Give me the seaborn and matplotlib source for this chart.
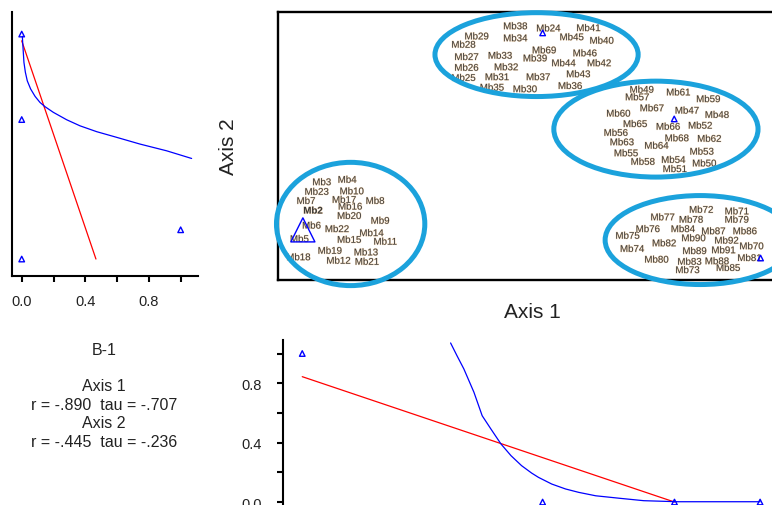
import numpy as np
import pandas as pd
import matplotlib
matplotlib.use('Agg')
import matplotlib.pyplot as plt
import matplotlib.patheffects as pe
from matplotlib.patches import Ellipse
import seaborn as sns

sns.set_style('white')
plt.rcParams['font.family'] = ['Liberation Sans', 'DejaVu Sans']

# --- ordination scores (main panel, axis units 0-100) ---
site_names = [
    'Mb2', 'Mb3', 'Mb4', 'Mb5', 'Mb6', 'Mb7', 'Mb8', 'Mb9', 'Mb10', 'Mb11', 'Mb12',
    'Mb13', 'Mb14', 'Mb15', 'Mb16', 'Mb17', 'Mb18', 'Mb19', 'Mb20', 'Mb21', 'Mb22', 'Mb23',
    'Mb24', 'Mb25', 'Mb26', 'Mb27', 'Mb28', 'Mb29', 'Mb30', 'Mb31', 'Mb32', 'Mb33', 'Mb34',
    'Mb35', 'Mb36', 'Mb37', 'Mb38', 'Mb39', 'Mb40', 'Mb41', 'Mb42', 'Mb43', 'Mb44', 'Mb45',
    'Mb46', 'Mb69',
    'Mb47', 'Mb48', 'Mb49', 'Mb50', 'Mb51', 'Mb52', 'Mb53', 'Mb54', 'Mb55', 'Mb56', 'Mb57',
    'Mb58', 'Mb59', 'Mb60', 'Mb61', 'Mb62', 'Mb63', 'Mb64', 'Mb65', 'Mb66', 'Mb67', 'Mb68',
    'Mb70', 'Mb71', 'Mb72', 'Mb73', 'Mb74', 'Mb75', 'Mb76', 'Mb77', 'Mb78', 'Mb79', 'Mb80',
    'Mb81', 'Mb82', 'Mb83', 'Mb84', 'Mb85', 'Mb86', 'Mb87', 'Mb88', 'Mb89', 'Mb90', 'Mb91',
    'Mb92',
]
axis1 = [
    6.9, 8.6, 13.6, 4.2, 6.6, 5.5, 19.1, 20.1, 14.5, 21.1, 11.9,
    17.3, 18.4, 14.0, 14.2, 13.0, 4.0, 10.2, 14.0, 17.5, 11.6, 7.6,
    53.2, 36.5, 37.1, 37.1, 36.5, 39.1, 48.6, 43.1, 44.9, 43.7, 46.7,
    42.1, 57.5, 51.2, 46.7, 50.6, 63.7, 61.1, 63.2, 59.1, 56.2, 57.8,
    60.4, 52.4,
    80.5, 86.4, 71.6, 83.9, 78.1, 83.1, 83.4, 77.8, 68.5, 66.5, 70.7,
    71.8, 84.7, 67.0, 78.8, 84.9, 67.7, 74.5, 70.3, 76.8, 73.6, 78.5,
    93.2, 90.3, 83.3, 80.6, 69.7, 68.8, 72.8, 75.7, 81.3, 90.3, 74.5,
    92.8, 76.0, 81.0, 79.7, 88.6, 91.9, 85.7, 86.4, 82.0, 81.8, 87.7,
    88.3,
]
axis2 = [
    25.9, 36.5, 37.4, 15.3, 20.3, 29.5, 29.5, 22.1, 33.1, 14.3, 7.2,
    10.3, 17.5, 15.0, 27.4, 29.9, 8.5, 10.9, 23.9, 6.8, 19.0, 32.9,
    93.9, 75.4, 79.2, 83.2, 87.8, 90.9, 71.2, 75.7, 79.4, 83.7, 90.2,
    71.8, 72.4, 75.7, 94.7, 82.7, 89.3, 94.0, 80.9, 76.8, 80.9, 90.6,
    84.6, 85.7,
    63.2, 61.6, 71.0, 43.5, 41.4, 57.6, 47.9, 44.8, 47.3, 54.9, 68.2,
    44.1, 67.5, 62.1, 70.0, 52.7, 51.4, 50.1, 58.2, 57.2, 64.1, 52.9,
    12.6, 25.6, 26.2, 3.7, 11.6, 16.5, 19.0, 23.4, 22.5, 22.5, 7.6,
    8.2, 13.7, 6.8, 19.0, 4.5, 18.2, 18.2, 7.0, 10.8, 15.6, 11.1,
    14.7,
]

# group points and highlighted site
group_axis1 = [52.1, 78.0, 95.0]
group_axis2 = [92.2, 60.1, 8.2]
highlight_axis1 = [4.9]
highlight_axis2 = [18.7]

# group ellipses: centre, width, height (axis units)
ell_x = [50.9, 74.4, 14.3, 83.1]
ell_y = [84.1, 56.3, 20.9, 14.9]
ell_w = [40.0, 40.2, 29.2, 37.4]
ell_h = [31.3, 35.8, 46.0, 33.2]

# --- left small plot ---
left_pts_x = [0.0, 0.0, 0.0, 1.0]
left_pts_y = [1.0, 0.62, 0.0, 0.13]
left_lin_x = [0.0, 0.467]
left_lin_y = [0.97, 0.0]
left_fit_x = [0.004, 0.006, 0.010, 0.014, 0.023, 0.035, 0.056, 0.084, 0.115, 0.147,
              0.199, 0.283, 0.367, 0.472, 0.597, 0.744, 0.912, 1.069]
left_fit_y = [0.99, 0.963, 0.919, 0.874, 0.830, 0.792, 0.756, 0.723, 0.696, 0.677,
              0.652, 0.619, 0.592, 0.566, 0.541, 0.511, 0.481, 0.447]

# --- bottom plot ---
bot_pts_x = [0.0, 0.525, 0.813, 1.0]
bot_pts_y = [1.0, 0.0, 0.0, 0.0]
bot_lin_x = [0.0, 0.813]
bot_lin_y = [0.844, 0.0]
bot_fit_x = [0.324, 0.338, 0.353, 0.375, 0.393, 0.412, 0.434, 0.456, 0.479, 0.501,
             0.516, 0.545, 0.575, 0.604, 0.641, 0.694, 0.746, 0.820, 1.0]
bot_fit_y = [1.071, 0.985, 0.896, 0.739, 0.581, 0.492, 0.391, 0.312, 0.245, 0.195,
             0.166, 0.121, 0.088, 0.065, 0.042, 0.025, 0.009, 0.002, 0.002]

stats_lines = ['B-1', 'Axis 1', 'r = -.890  tau = -.707', 'Axis 2', 'r = -.445  tau = -.236']

ELL_COLOR = '#1ba2dc'
TXT = '#222222'

fig = plt.figure(figsize=(7.72, 5.06), dpi=100)


def open_triangles(ax, x, y, s, lw):
    sns.scatterplot(x=x, y=y, marker='^', s=s, color='blue', linewidth=lw,
                    ax=ax, legend=False, clip_on=False, zorder=5)
    ax.collections[-1].set_facecolor('none')
    ax.collections[-1].set_edgecolor('blue')


# main ordination panel
ax = fig.add_axes([0.3601, 0.4447, 0.658, 0.5296])
ax.set_xlim(0, 100)
ax.set_ylim(0, 100)
ax.set_xticks([])
ax.set_yticks([])
for sp in ax.spines.values():
    sp.set_linewidth(1.7)
    sp.set_color('black')

# site labels: dark grey with a faint orange fringe like the original rendering
halo = [pe.withStroke(linewidth=0.6, foreground='#f8dcba')]
for name, sx, sy in zip(site_names, axis1, axis2):
    ax.text(sx, sy, name, fontsize=7, color='#3a3a3a', ha='center', va='center',
            fontweight='bold' if name == 'Mb2' else 'normal',
            path_effects=halo, zorder=3)

open_triangles(ax, group_axis1, group_axis2, 16, 1.0)
open_triangles(ax, highlight_axis1, highlight_axis2, 300, 1.0)

for cx, cy, w, h in zip(ell_x, ell_y, ell_w, ell_h):
    ax.add_patch(Ellipse((cx, cy), w, h, fill=False, edgecolor=ELL_COLOR,
                         linewidth=3.6, clip_on=False, zorder=4))

ax.text(0.5, -0.119, 'Axis 1', transform=ax.transAxes, fontsize=15, color=TXT,
        ha='center', va='center', clip_on=False)
ax.text(-0.0984, 0.5, 'Axis 2', transform=ax.transAxes, fontsize=15, color=TXT,
        ha='center', va='center', rotation=90, clip_on=False)

# left small plot
axl = fig.add_axes([0.01516, 0.4532, 0.2413, 0.5211])
sns.lineplot(x=left_lin_x, y=left_lin_y, color='red', lw=0.9, sort=False,
             estimator=None, ax=axl)
sns.lineplot(x=left_fit_x, y=left_fit_y, color='blue', lw=0.9, sort=False,
             estimator=None, ax=axl)
open_triangles(axl, left_pts_x, left_pts_y, 16, 1.0)
axl.set_xlim(-0.063, 1.109)
axl.set_ylim(-0.074, 1.098)
axl.set_xticks([0.0, 0.4, 0.8])
axl.set_xticks([0.2, 0.6, 1.0], minor=True)
axl.set_xticklabels(['0.0', '0.4', '0.8'])
axl.set_yticks([])
sns.despine(ax=axl)
for sp in ['left', 'bottom']:
    axl.spines[sp].set_linewidth(1.5)
    axl.spines[sp].set_color('black')
axl.tick_params(axis='x', which='both', direction='out', length=4, width=1.5,
                bottom=True, color='black', labelsize=10.5, labelcolor=TXT, pad=9)

# bottom plot
axb = fig.add_axes([0.3666, 0.0, 0.6334, 0.3267])
sns.lineplot(x=bot_lin_x, y=bot_lin_y, color='red', lw=0.9, sort=False,
             estimator=None, ax=axb)
sns.lineplot(x=bot_fit_x, y=bot_fit_y, color='blue', lw=0.9, sort=False,
             estimator=None, ax=axb)
open_triangles(axb, bot_pts_x, bot_pts_y, 16, 1.0)
axb.set_xlim(-0.042, 1.026)
axb.set_ylim(-0.02, 1.093)
axb.set_xticks([])
axb.set_yticks([0.0, 0.4, 0.8])
axb.set_yticks([0.2, 0.6, 1.0], minor=True)
axb.set_yticklabels(['0.0', '0.4', '0.8'])
sns.despine(ax=axb, bottom=True)
axb.spines['left'].set_linewidth(1.5)
axb.spines['left'].set_color('black')
axb.tick_params(axis='y', which='both', direction='out', length=4, width=1.5,
                left=True, color='black', labelsize=10.5, labelcolor=TXT, pad=11)

# statistics text block
ys = [0.3083, 0.2352, 0.1982, 0.1621, 0.1251]
for line, yy in zip(stats_lines, ys):
    fig.text(0.1347, yy, line, fontsize=11.5, color=TXT, ha='center', va='center')

fig.savefig('out.png', dpi=100)
